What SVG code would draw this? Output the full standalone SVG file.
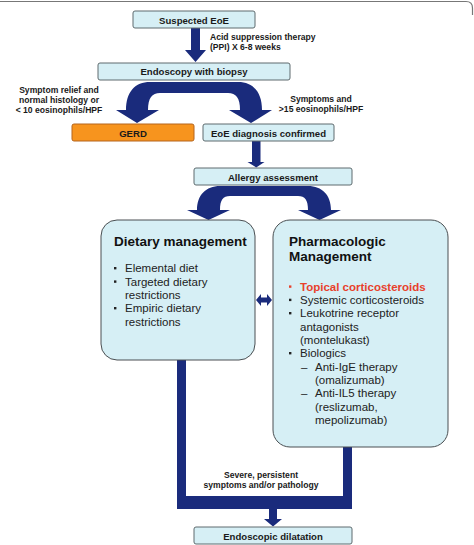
<svg xmlns="http://www.w3.org/2000/svg" width="474" height="545" viewBox="0 0 474 545">
<style>
.box{fill:#d6eff5;stroke:#5f6b6e;stroke-width:1}
.big{fill:#d6eff5;stroke:#4a4f52;stroke-width:1}
.lbl{font-family:"Liberation Sans",Arial,sans-serif;font-weight:bold;font-size:9.6px;fill:#1a1a1a;text-anchor:middle}
.note{font-family:"Liberation Sans",Arial,sans-serif;font-weight:bold;font-size:8.6px;fill:#1a1a1a}
.title{font-family:"Liberation Sans",Arial,sans-serif;font-weight:bold;font-size:13.5px;fill:#111}
.item{font-family:"Liberation Sans",Arial,sans-serif;font-size:11.5px;fill:#222}
.arr{fill:#1a2b7c}
.dot{fill:#222}
</style>
<rect width="474" height="545" fill="#ffffff"/>
<path d="M0,1.5 H466 Q472.5,1.5 472.5,8 V15" fill="none" stroke="#777" stroke-width="1.2"/>

<g id="connectors">
  <path class="arr" d="M191,28 H200 V50 H206 L195.5,62 L185,50 H191 Z"/>
  <path class="arr" d="M194,82 H150 C135,82 126,92 126,110 H116 L137,123 L159,110 H148 C148,98 152,93 160,93 H194 Z"/>
  <path class="arr" d="M194,82 H238 C253,82 262,92 262,110 H272 L251,123 L229,110 H240 C240,98 236,93 228,93 H194 Z"/>
  <path class="arr" d="M252,141 H260.5 V162 H264.5 L256.2,167.5 L247.5,162 H252 Z"/>
  <path class="arr" d="M264,186 H220 C206,186 197,195 197,210 H187 L208.5,220 L230,210 H220 C220,200 223,196 230,196 H264 Z"/>
  <path class="arr" d="M264,186 H308 C322,186 331,195 331,210 H341 L319.5,220 L298,210 H308 C308,200 305,196 298,196 H264 Z"/>
  <path class="arr" d="M256,300 L261,294 V297.5 H267 V294 L272,300 L267,306 V302.5 H261 V306 Z"/>
  <path class="arr" d="M177,360 V509 H352 V447 H343 V496 H186 V360 Z"/>
  <path class="arr" d="M269,508 H277 V519 H282 L273,526.5 L264,519 H269 Z"/>
  <text class="note" x="210" y="40">Acid suppression therapy</text>
  <text class="note" x="210" y="50">(PPI) X 6-8 weeks</text>
  <text class="note" x="59" y="92.5" text-anchor="middle">Symptom relief and</text>
  <text class="note" x="59" y="102.5" text-anchor="middle">normal histology or</text>
  <text class="note" x="59" y="112.5" text-anchor="middle">&lt; 10 eosinophils/HPF</text>
  <text class="note" x="321" y="101.5" text-anchor="middle">Symptoms and</text>
  <text class="note" x="321" y="111.5" text-anchor="middle">&gt;15 eosinophils/HPF</text>
  <text class="note" x="261" y="477.5" text-anchor="middle">Severe, persistent</text>
  <text class="note" x="261" y="487.5" text-anchor="middle">symptoms and/or pathology</text>
</g>

<g id="suspected">
  <rect class="box" x="133" y="11" width="122" height="17" rx="2"/>
  <text class="lbl" x="194" y="23.5">Suspected EoE</text>
</g>
<g id="endoscopy">
  <rect class="box" x="98" y="63" width="192" height="17" rx="2"/>
  <text class="lbl" x="194" y="75">Endoscopy with biopsy</text>
</g>
<g id="gerd">
  <rect x="72" y="124" width="122" height="17" rx="2" fill="#f7941e" stroke="#b5651d"/>
  <text class="lbl" x="133" y="137">GERD</text>
</g>
<g id="eoe">
  <rect class="box" x="203" y="124" width="131" height="17" rx="2"/>
  <text class="lbl" x="268.5" y="137">EoE diagnosis confirmed</text>
</g>
<g id="allergy">
  <rect class="box" x="194" y="168" width="158" height="17" rx="2"/>
  <text class="lbl" x="273" y="181">Allergy assessment</text>
</g>
<g id="dietary">
  <rect class="big" x="101" y="220" width="154" height="140" rx="16"/>
  <text class="title" x="114" y="245.5">Dietary management</text>
  <rect class="dot" x="114" y="267" width="2.4" height="2.4"/>
  <text class="item" x="125" y="272.3">Elemental diet</text>
  <rect class="dot" x="114" y="280.4" width="2.4" height="2.4"/>
  <text class="item" x="125" y="285.7">Targeted dietary</text>
  <text class="item" x="125" y="299">restrictions</text>
  <rect class="dot" x="114" y="307" width="2.4" height="2.4"/>
  <text class="item" x="125" y="312.3">Empiric dietary</text>
  <text class="item" x="125" y="325.7">restrictions</text>
</g>
<g id="pharma">
  <rect class="big" x="273" y="220" width="175" height="227" rx="17"/>
  <text class="title" x="289" y="245.5">Pharmacologic</text>
  <text class="title" x="289" y="260.5">Management</text>
  <rect x="289" y="285.4" width="2.4" height="2.4" fill="#e8412c"/>
  <text class="item" x="300" y="290.7" font-weight="bold" style="fill:#e8412c">Topical corticosteroids</text>
  <rect class="dot" x="289" y="298.7" width="2.4" height="2.4"/>
  <text class="item" x="300" y="304">Systemic corticosteroids</text>
  <rect class="dot" x="289" y="312" width="2.4" height="2.4"/>
  <text class="item" x="300" y="317.3">Leukotrine receptor</text>
  <text class="item" x="300" y="330.7">antagonists</text>
  <text class="item" x="300" y="344">(montelukast)</text>
  <rect class="dot" x="289" y="352" width="2.4" height="2.4"/>
  <text class="item" x="300" y="357.3">Biologics</text>
  <text class="item" x="301" y="370.7">–</text>
  <text class="item" x="315" y="370.7">Anti-IgE therapy</text>
  <text class="item" x="315" y="384">(omalizumab)</text>
  <text class="item" x="301" y="397.3">–</text>
  <text class="item" x="315" y="397.3">Anti-IL5 therapy</text>
  <text class="item" x="315" y="410.7">(reslizumab,</text>
  <text class="item" x="315" y="424">mepolizumab)</text>
</g>
<g id="dilatation">
  <rect class="box" x="194" y="527" width="158" height="17" rx="2"/>
  <text class="lbl" x="273" y="539.5">Endoscopic dilatation</text>
</g>
</svg>
